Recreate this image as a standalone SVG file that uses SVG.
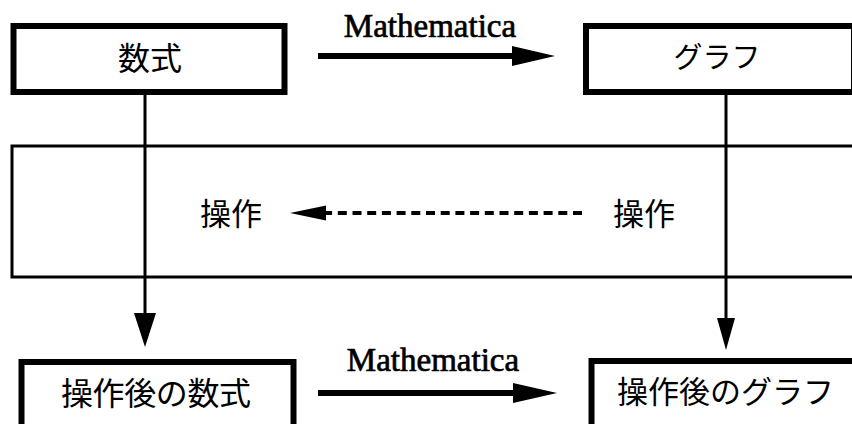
<svg xmlns="http://www.w3.org/2000/svg" width="852" height="424" viewBox="0 0 852 424">
  <style>
    .box { fill: #fff; stroke: #000; stroke-width: 6; }
    .band { fill: none; stroke: #000; stroke-width: 3; }
    .jp { font-family: "Noto Sans CJK JP", "Noto Sans", sans-serif; fill: #000; text-anchor: middle; }
    .lbl { font-family: "Liberation Serif", "Times New Roman", serif; font-size: 33px; fill: #000; stroke: #000; stroke-width: 0.7; text-anchor: middle; }
    .thick { stroke: #000; stroke-width: 6; fill: none; }
    .thin { stroke: #000; stroke-width: 3; fill: none; }
    .dash { stroke: #000; stroke-width: 4; fill: none; stroke-dasharray: 9 5.7; }
    .head { fill: #000; stroke: none; }
  </style>
  <rect width="852" height="424" fill="#fff"/>

  <g id="band">
    <rect class="band" x="12" y="146" width="850" height="131"/>
  </g>

  <g id="connectors">
    <g id="edge-formula-graph">
      <line class="thick" x1="318" y1="56" x2="514" y2="56"/>
      <polygon class="head" points="512,46 555,56 512,66"/>
      <text class="lbl" x="430" y="37">Mathematica</text>
    </g>
    <g id="edge-formula-down">
      <line class="thin" x1="145" y1="95" x2="145" y2="315"/>
      <polygon class="head" points="134,313 156,313 145,347"/>
    </g>
    <g id="edge-graph-down">
      <line class="thin" x1="726" y1="95" x2="726" y2="320"/>
      <polygon class="head" points="717,318 735,318 726,350"/>
    </g>
    <g id="edge-op">
      <line class="dash" x1="582" y1="213" x2="324" y2="213"/>
      <polygon class="head" points="290,213 326,205.5 326,220.5"/>
    </g>
    <g id="edge-after">
      <line class="thick" x1="318" y1="393" x2="515" y2="393"/>
      <polygon class="head" points="513,383 557,393 513,403"/>
      <text class="lbl" x="433" y="371">Mathematica</text>
    </g>
  </g>

  <g id="node-formula">
    <rect class="box" x="13.5" y="26" width="271" height="66"/>
    <text class="jp" x="150" y="69.5" font-size="32">数式</text>
  </g>

  <g id="node-graph">
    <rect class="box" x="586" y="26" width="268" height="66"/>
    <text class="jp" x="717" y="68" font-size="29">グラフ</text>
  </g>

  <g id="op-left">
    <text class="jp" x="231" y="225" font-size="31">操作</text>
  </g>

  <g id="op-right">
    <text class="jp" x="644" y="225" font-size="31">操作</text>
  </g>

  <g id="node-formula-after">
    <rect class="box" x="21.5" y="362" width="272" height="80"/>
    <text class="jp" x="61" y="404.5" font-size="32" text-anchor="start" style="text-anchor:start" textLength="190" lengthAdjust="spacing">操作後の数式</text>
  </g>

  <g id="node-graph-after">
    <rect class="box" x="591.5" y="361" width="270" height="80"/>
    <text class="jp" x="725.5" y="403" font-size="31">操作後のグラフ</text>
  </g>
</svg>
